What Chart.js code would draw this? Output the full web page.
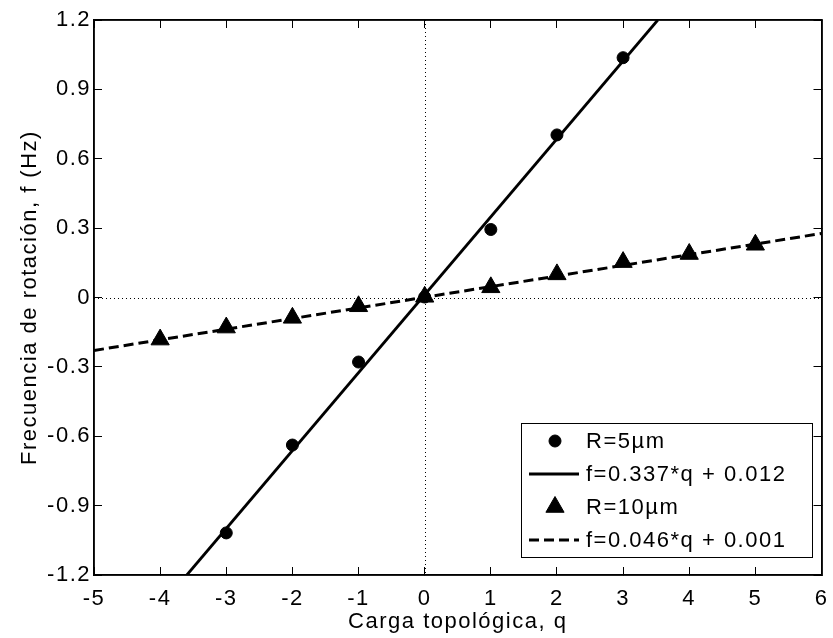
<!DOCTYPE html>
<html>
<head>
<meta charset="utf-8">
<script src="https://cdn.jsdelivr.net/npm/chart.js@4/dist/chart.umd.min.js"></script>
<style>
html,body{margin:0;padding:0;background:#fff;}
#wrap{width:833px;height:638px;}
</style>
</head>
<body>
<div id="wrap"><canvas id="c" width="833" height="638"></canvas></div>
<script>
// ---- data ----
const qSmall = [-3, -2, -1, 0, 1, 2, 3];
const fSmall = [-1.018, -0.638, -0.279, 0.002, 0.294, 0.703, 1.037];
const qLarge = [-4, -3, -2, -1, 0, 1, 2, 3, 4, 5];
const fLarge = [-0.182, -0.130, -0.088, -0.038, 0.003, 0.044, 0.100, 0.153, 0.188, 0.228];
const fitSmallX = [-3.596, 3.525];
const fitSmallY = [-1.2, 1.2];
const fitLargeX = [-5, 6];
const fitLargeY = [-0.229, 0.277];
const xTicks = [-5, -4, -3, -2, -1, 0, 1, 2, 3, 4, 5, 6];
const yTicks = [-1.2, -0.9, -0.6, -0.3, 0, 0.3, 0.6, 0.9, 1.2];
const legendLabels = ['R=5\u00b5m', 'f=0.337*q + 0.012', 'R=10\u00b5m', 'f=0.046*q + 0.001'];
const xTitle = 'Carga topol\u00f3gica, q';
const yTitle = 'Frecuencia de rotaci\u00f3n, f (Hz)';

const FONT = '"Liberation Sans", Arial, Helvetica, sans-serif';
const SPACING = '1.5px';
const TL = -8; // inward tick marks
const zip = (xs, ys) => xs.map((x, i) => ({x: x, y: ys[i]}));

const spacingPlugin = {
  id: 'spacing',
  beforeLayout(chart) { chart.ctx.letterSpacing = SPACING; },
  beforeDraw(chart) { chart.ctx.letterSpacing = SPACING; }
};

const extrasPlugin = {
  id: 'extras',
  beforeDatasetsDraw(chart) {
    const {ctx, chartArea: a, scales: {x, y}} = chart;
    ctx.save();
    ctx.strokeStyle = '#000';
    ctx.lineWidth = 1;
    ctx.setLineDash([1, 3]);
    const x0 = Math.round(x.getPixelForValue(0)) + 0.5;
    const y0 = Math.round(y.getPixelForValue(0)) + 0.5;
    ctx.beginPath();
    ctx.moveTo(x0, a.top); ctx.lineTo(x0, a.bottom);
    ctx.moveTo(a.left, y0); ctx.lineTo(a.right, y0);
    ctx.stroke();
    ctx.restore();
  },
  afterDraw(chart) {
    const ctx = chart.ctx;
    const a = chart.chartArea;
    ctx.save();
    ctx.setLineDash([]);
    // plot frame
    ctx.strokeStyle = '#000';
    ctx.lineWidth = 1.5;
    ctx.strokeRect(Math.round(a.left), Math.round(a.top), Math.round(a.right - a.left), Math.round(a.bottom - a.top));
    // legend
    const bx = 521, by = 423, bw = 291, bh = 134;
    ctx.fillStyle = '#fff';
    ctx.fillRect(bx, by, bw, bh);
    ctx.lineWidth = 1;
    ctx.strokeRect(bx + 0.5, by + 0.5, bw, bh);
    const rows = [441, 474, 507, 540];
    chart.data.datasets.forEach((d, i) => {
      const yy = rows[i];
      ctx.strokeStyle = '#000';
      ctx.fillStyle = '#000';
      if (d.showLine) {
        ctx.beginPath();
        ctx.lineWidth = d.borderWidth;
        ctx.setLineDash(d.borderDash || []);
        ctx.moveTo(529, yy); ctx.lineTo(579, yy);
        ctx.stroke();
        ctx.setLineDash([]);
      } else {
        ctx.lineWidth = 1;
        Chart.helpers.drawPoint(ctx, {pointStyle: d.pointStyle, radius: d.pointRadius, borderWidth: 1}, 555, yy);
      }
      ctx.fillStyle = '#000';
      ctx.font = '22px ' + FONT;
      ctx.letterSpacing = SPACING;
      ctx.textBaseline = 'middle';
      ctx.textAlign = 'left';
      ctx.fillText(legendLabels[i], 586, yy + 1);
    });
    ctx.restore();
  }
};

const gridOpts = {display: true, drawOnChartArea: false, drawTicks: true, tickLength: TL, color: '#000', lineWidth: 1};
const borderOpts = {display: true, color: '#000', width: 1.5};
const tickFont = {family: FONT, size: 22, lineHeight: 1.2};

new Chart(document.getElementById('c'), {
  type: 'scatter',
  data: {
    datasets: [
      {label: legendLabels[0], data: zip(qSmall, fSmall), showLine: false, pointStyle: 'circle', pointRadius: 6, pointBackgroundColor: '#000', pointBorderColor: '#000', borderColor: '#000', backgroundColor: '#000'},
      {label: legendLabels[1], data: zip(fitSmallX, fitSmallY), showLine: true, pointRadius: 0, borderColor: '#000', borderWidth: 2.8, fill: false},
      {label: legendLabels[2], data: zip(qLarge, fLarge), showLine: false, pointStyle: 'triangle', pointRadius: 10.5, pointBackgroundColor: '#000', pointBorderColor: '#000', borderColor: '#000', backgroundColor: '#000'},
      {label: legendLabels[3], data: zip(fitLargeX, fitLargeY), showLine: true, pointRadius: 0, borderColor: '#000', borderWidth: 3, borderDash: [10, 5], fill: false}
    ]
  },
  options: {
    responsive: false,
    animation: false,
    devicePixelRatio: 1,
    layout: {padding: {left: 0, top: 20, right: 10, bottom: 0}},
    plugins: {legend: {display: false}, tooltip: {enabled: false}},
    scales: {
      x: {
        type: 'linear', position: 'bottom', min: -5, max: 6,
        afterBuildTicks: s => { s.ticks = xTicks.map(v => ({value: v})); },
        afterFit: s => { s.height = 63; s.paddingLeft = 0; s.paddingRight = 0; },
        grid: gridOpts,
        border: borderOpts,
        ticks: {color: '#000', font: tickFont, padding: 19, maxRotation: 0, autoSkip: false, callback: v => String(v)},
        title: {display: true, text: xTitle, color: '#000', font: tickFont, padding: {top: 0, bottom: 3}}
      },
      x2: {
        type: 'linear', position: 'top', min: -5, max: 6,
        afterBuildTicks: s => { s.ticks = xTicks.map(v => ({value: v})); },
        afterFit: s => { s.height = 0; s.paddingLeft = 0; s.paddingRight = 0; },
        grid: gridOpts,
        border: borderOpts,
        ticks: {display: false}
      },
      y: {
        type: 'linear', position: 'left', min: -1.2, max: 1.2,
        afterBuildTicks: s => { s.ticks = yTicks.map(v => ({value: v})); },
        afterFit: s => { s.width = 94; s.paddingTop = 0; s.paddingBottom = 0; },
        grid: gridOpts,
        border: borderOpts,
        ticks: {color: '#000', font: tickFont, padding: 11, autoSkip: false, callback: v => (Math.abs(v) < 1e-9 ? '0' : v.toFixed(1))},
        title: {display: true, text: yTitle, color: '#000', font: tickFont, padding: {top: 17, bottom: 0}}
      },
      y2: {
        type: 'linear', position: 'right', min: -1.2, max: 1.2,
        afterBuildTicks: s => { s.ticks = yTicks.map(v => ({value: v})); },
        afterFit: s => { s.width = 0; s.paddingTop = 0; s.paddingBottom = 0; },
        grid: gridOpts,
        border: borderOpts,
        ticks: {display: false}
      }
    }
  },
  plugins: [spacingPlugin, extrasPlugin]
});
</script>
</body>
</html>
